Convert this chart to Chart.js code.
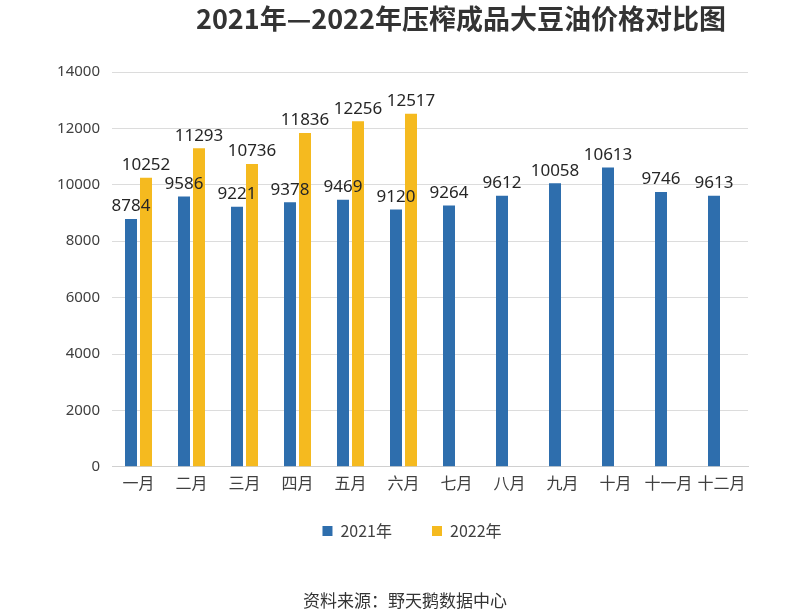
<!DOCTYPE html>
<html><head><meta charset="utf-8">
<script src="https://cdn.jsdelivr.net/npm/chart.js@4/dist/chart.umd.min.js"></script>
<style>
html,body{margin:0;padding:0;background:#fff;}
#wrap{position:relative;width:800px;height:616px;}
#title{position:absolute;left:196px;top:0px;width:520px;text-align:center;font:bold 27px "Noto Sans CJK SC",sans-serif;color:#333;line-height:36px;white-space:nowrap;}
#src{position:absolute;left:280px;top:588px;width:250px;text-align:center;font:17px "Noto Sans CJK SC",sans-serif;color:#333;line-height:24px;white-space:nowrap;}
canvas{position:absolute;left:0;top:0;}
</style></head>
<body><div id="wrap">
<canvas id="c" width="800" height="616"></canvas>
<div id="title">2021年—2022年压榨成品大豆油价格对比图</div>
<div id="src">资料来源：野天鹅数据中心</div>
</div>
<script>
const months = ["一月","二月","三月","四月","五月","六月","七月","八月","九月","十月","十一月","十二月"];
const series2021 = [8784,9586,9221,9378,9469,9120,9264,9612,10058,10613,9746,9613];
const series2022 = [10252,11293,10736,11836,12256,12517,null,null,null,null,null,null];
const seriesNames = ["2021年","2022年"];

const labelPlugin = {
  id:'vals',
  afterDatasetsDraw(chart){
    const ctx = chart.ctx;
    ctx.save();
    ctx.font = '17px "Noto Sans", sans-serif';
    ctx.fillStyle = '#262626';
    ctx.textAlign = 'center';
    ctx.textBaseline = 'bottom';
    chart.data.datasets.forEach((ds,i)=>{
      const meta = chart.getDatasetMeta(i);
      meta.data.forEach((bar,j)=>{
        const v = ds.data[j];
        if(v==null) return;
        ctx.fillText(String(v), bar.x, bar.y - 4);
      });
    });
    ctx.restore();
  }
};

const legendShift = {
  id:'legendShift',
  afterLayout(chart){
    const lg = chart.legend;
    if(lg){ lg.left += 38; lg.right += 38; lg.top -= 17; lg.bottom -= 17; }
  }
};

new Chart(document.getElementById('c'),{
  type:'bar',
  data:{
    labels: months,
    datasets:[
      {label:seriesNames[0],data:series2021,backgroundColor:'#2E6EAD',categoryPercentage:0.566,barPercentage:0.8},
      {label:seriesNames[1],data:series2022,backgroundColor:'#F5BA1F',categoryPercentage:0.566,barPercentage:0.8}
    ]
  },
  options:{
    responsive:false,
    animation:false,
    layout:{padding:{left:0,right:52,top:72,bottom:50}},
    plugins:{
      legend:{position:'bottom',labels:{boxWidth:10,boxHeight:10,padding:40,color:'#404040',font:{size:16,family:'"Noto Sans CJK SC", sans-serif'}}},
      title:{display:false},
      tooltip:{enabled:false}
    },
    scales:{
      x:{
        grid:{display:false,drawTicks:false},
        border:{color:'#d0d0d0',width:1},
        ticks:{color:'#404040',padding:7,maxRotation:0,autoSkip:false,font:{size:16,family:'"Noto Sans CJK SC", sans-serif'}}
      },
      y:{
        min:0,max:14000,
        afterFit(s){s.width=112;},
        grid:{color:'#dcdcdc',drawTicks:false},
        border:{display:false},
        ticks:{stepSize:2000,color:'#404040',padding:12,callback:(v)=>String(v),font:{size:15,family:'"Noto Sans", sans-serif'}}
      }
    }
  },
  plugins:[labelPlugin, legendShift]
});
</script>
</body></html>
